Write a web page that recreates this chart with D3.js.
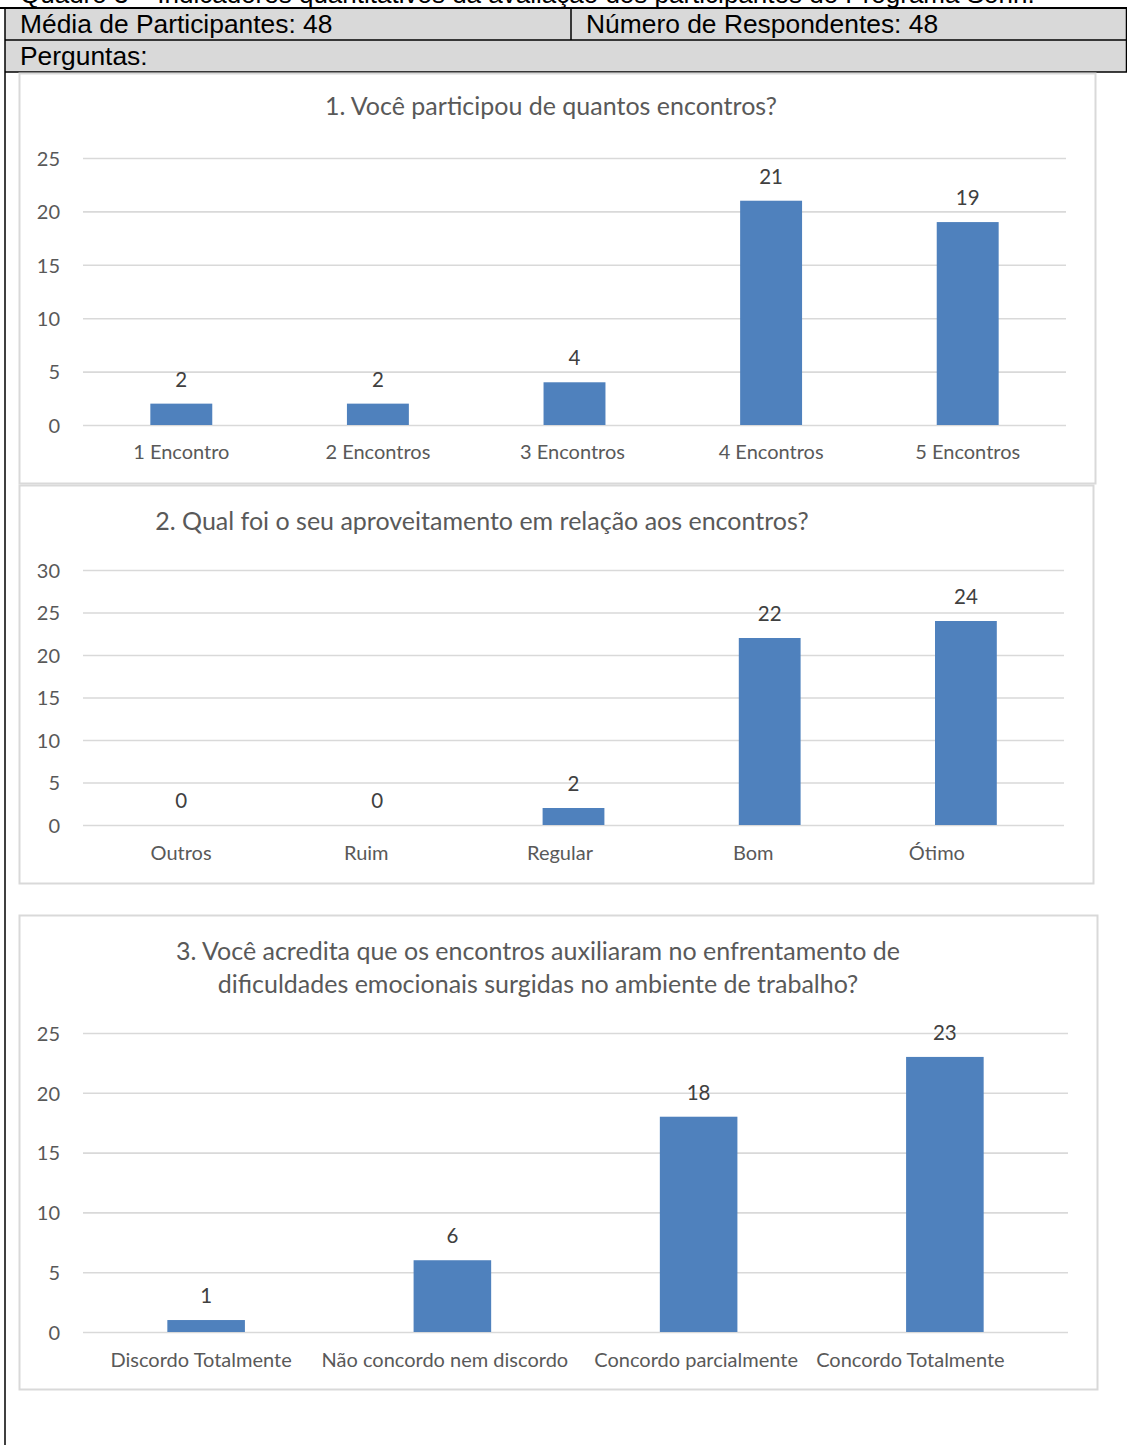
<!DOCTYPE html>
<html>
<head>
<meta charset="utf-8">
<script src="https://cdn.jsdelivr.net/npm/d3@7"></script>
<style>
  html, body { margin: 0; padding: 0; background: #fff; }
  svg { display: block; }
</style>
</head>
<body>
<script>
// ---------------- DATA ----------------
const captionText = "Quadro 3 – Indicadores quantitativos da avaliação dos participantes do Programa Sonh.";
const headerLeft = "Média de Participantes: 48";
const headerRight = "Número de Respondentes: 48";
const headerRow2 = "Perguntas:";

const q1Title = ["1. Você participou de quantos encontros?"];
const q1Categories = ["1 Encontro", "2 Encontros", "3 Encontros", "4 Encontros", "5 Encontros"];
const q1Values = [2, 2, 4, 21, 19];
const q1Ticks = [0, 5, 10, 15, 20, 25];

const q2Title = ["2. Qual foi o seu aproveitamento em relação aos encontros?"];
const q2Categories = ["Outros", "Ruim", "Regular", "Bom", "Ótimo"];
const q2Values = [0, 0, 2, 22, 24];
const q2Ticks = [0, 5, 10, 15, 20, 25, 30];

const q3Title = ["3. Você acredita que os encontros auxiliaram no enfrentamento de",
                 "dificuldades emocionais surgidas no ambiente de trabalho?"];
const q3Categories = ["Discordo Totalmente", "Não concordo nem discordo", "Concordo parcialmente", "Concordo Totalmente"];
const q3Values = [1, 6, 18, 23];
const q3Ticks = [0, 5, 10, 15, 20, 25];

// ---------------- LAYOUT ----------------
const W = 1127, H = 1445;
const FONT = "Lato, 'Open Sans', sans-serif";
const BAR = "#4f81bd";
const GRID = "#d9d9d9";
const TXT = "#595959";
const LBL = "#404040";

const svg = d3.select("body").append("svg")
  .attr("width", W).attr("height", H)
  .attr("viewBox", `0 0 ${W} ${H}`);

svg.append("rect").attr("width", W).attr("height", H).attr("fill", "#fff");

// caption (clipped at top, as in the source page)
svg.append("text")
  .attr("x", 20).attr("y", 3)
  .attr("font-family", "'Liberation Sans', Arial, sans-serif")
  .attr("font-size", 26).attr("fill", "#000")
  .text(captionText);

// header table
const hdr = svg.append("g");
hdr.append("rect").attr("x", 5).attr("y", 8).attr("width", W - 5).attr("height", 64).attr("fill", "#d9d9d9");
hdr.append("line").attr("x1", 0).attr("x2", W).attr("y1", 8).attr("y2", 8).attr("stroke", "#000").attr("stroke-width", 2);
hdr.append("line").attr("x1", 5).attr("x2", W).attr("y1", 40).attr("y2", 40).attr("stroke", "#000").attr("stroke-width", 1.5);
hdr.append("line").attr("x1", 5).attr("x2", W).attr("y1", 72).attr("y2", 72).attr("stroke", "#000").attr("stroke-width", 1.5);
hdr.append("line").attr("x1", 571).attr("x2", 571).attr("y1", 8).attr("y2", 40).attr("stroke", "#000").attr("stroke-width", 1.5);
hdr.append("line").attr("x1", 5).attr("x2", 5).attr("y1", 8).attr("y2", H).attr("stroke", "#000").attr("stroke-width", 1.5);
hdr.append("line").attr("x1", W - 0.5).attr("x2", W - 0.5).attr("y1", 8).attr("y2", 72).attr("stroke", "#000").attr("stroke-width", 1.5);

const hText = (x, y, t) => hdr.append("text").attr("x", x).attr("y", y)
  .attr("font-family", "'Liberation Sans', Arial, sans-serif")
  .attr("font-size", 26.4).attr("fill", "#000").text(t);
hText(20, 33, headerLeft);
hText(586, 33, headerRight);
hText(20, 65, headerRow2);

function drawChart(cfg) {
  const g = svg.append("g");
  g.append("rect")
    .attr("x", cfg.box[0] + 0.5).attr("y", cfg.box[1] + 0.5)
    .attr("width", cfg.box[2] - cfg.box[0]).attr("height", cfg.box[3] - cfg.box[1])
    .attr("fill", "#fff").attr("stroke", "#d9d9d9").attr("stroke-width", 2);

  // title
  const t = g.append("text")
    .attr("text-anchor", "middle")
    .attr("font-family", FONT).attr("font-size", cfg.titleSize)
    .attr("fill", TXT);
  cfg.title.forEach((line, i) => {
    t.append("tspan").attr("x", cfg.titleX).attr("y", cfg.titleY + i * cfg.titleLead).text(line);
  });

  const [x0, x1, y0, y1] = cfg.plot;
  const x = d3.scaleBand().domain(cfg.categories).range([x0, x1])
    .paddingInner(0.685).paddingOuter(0.3425);
  const y = d3.scaleLinear().domain([0, d3.max(cfg.ticks)]).range([y0, y1]);

  // y axis + gridlines
  const ya = g.append("g").attr("transform", `translate(${x0},0)`)
    .call(d3.axisLeft(y).tickValues(cfg.ticks).tickSize(-(x1 - x0)).tickPadding(23));
  ya.select(".domain").remove();
  ya.selectAll(".tick line").attr("stroke", GRID).attr("stroke-width", 1.6);
  ya.selectAll(".tick text").attr("font-family", FONT).attr("font-size", cfg.tickSize)
    .attr("fill", TXT).attr("dy", "0.36em");

  // bars
  g.selectAll("rect.bar").data(cfg.values).join("rect")
    .attr("class", "bar")
    .attr("x", (d, i) => x(cfg.categories[i]))
    .attr("y", d => y(d))
    .attr("width", x.bandwidth())
    .attr("height", d => y(0) - y(d))
    .attr("fill", BAR);

  // data labels
  g.selectAll("text.val").data(cfg.values).join("text")
    .attr("class", "val")
    .attr("x", (d, i) => x(cfg.categories[i]) + x.bandwidth() / 2)
    .attr("y", d => y(d) - 17)
    .attr("text-anchor", "middle")
    .attr("font-family", FONT).attr("font-size", cfg.valSize)
    .attr("fill", LBL)
    .text(d => d);

  // category axis
  const xa = g.append("g").attr("transform", `translate(0,${y0})`)
    .call(d3.axisBottom(x).tickSize(0).tickPadding(cfg.catPad));
  xa.select(".domain").remove();
  xa.selectAll(".tick text")
    .attr("font-family", FONT).attr("font-size", cfg.catSize).attr("fill", TXT)
    .attr("dx", (d, i) => cfg.nudge[i]);
}

drawChart({
  box: [19, 73, 1095, 483],
  plot: [83, 1066, 425, 158],
  title: q1Title, titleX: 551, titleY: 115, titleLead: 33, titleSize: 25,
  categories: q1Categories, values: q1Values, ticks: q1Ticks,
  tickSize: 20, valSize: 20.5, catSize: 20, catPad: 20,
  nudge: [0, 0, -2, 0, 0]
});

drawChart({
  box: [19, 485, 1093, 883],
  plot: [83, 1064, 825, 570],
  title: q2Title, titleX: 482, titleY: 530, titleLead: 33, titleSize: 25,
  categories: q2Categories, values: q2Values, ticks: q2Ticks,
  tickSize: 20, valSize: 20.5, catSize: 20, catPad: 21,
  nudge: [0, -11, -13.5, -16.5, -29]
});

drawChart({
  box: [19, 915, 1097, 1389],
  plot: [83, 1068, 1332, 1033],
  title: q3Title, titleX: 538, titleY: 960, titleLead: 33, titleSize: 25,
  categories: q3Categories, values: q3Values, ticks: q3Ticks,
  tickSize: 20, valSize: 20.5, catSize: 20, catPad: 21,
  nudge: [-5, -7.5, -2.5, -34.5]
});
</script>
</body>
</html>
